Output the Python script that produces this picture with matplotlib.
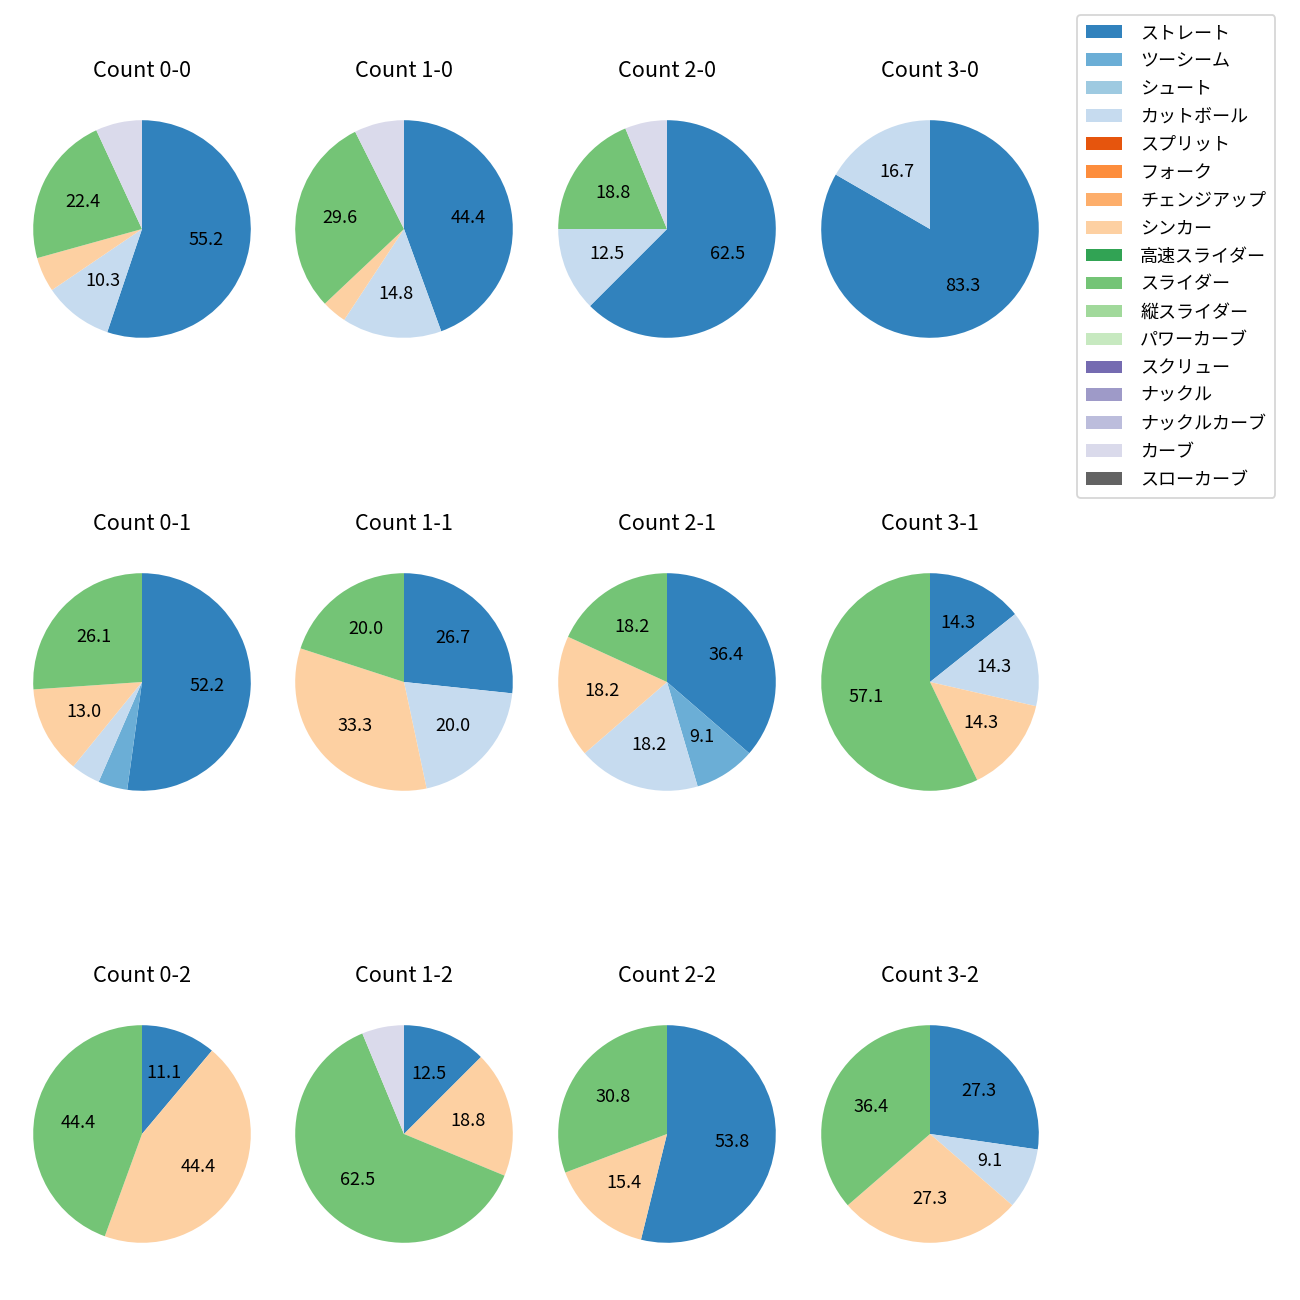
import numpy as np
import matplotlib
matplotlib.use("Agg")
import matplotlib.pyplot as plt
from matplotlib.patches import Patch

plt.rcParams['font.family'] = ['Noto Sans CJK JP', 'DejaVu Sans']

# pitch types and colours (tab20c order)
pitch_types = ['ストレート', 'ツーシーム', 'シュート', 'カットボール', 'スプリット', 'フォーク',
               'チェンジアップ', 'シンカー', '高速スライダー', 'スライダー', '縦スライダー',
               'パワーカーブ', 'スクリュー', 'ナックル', 'ナックルカーブ', 'カーブ', 'スローカーブ']
pitch_colors = ['#3182bd', '#6baed6', '#9ecae1', '#c6dbef', '#e6550d', '#fd8d3c',
                '#fdae6b', '#fdd0a2', '#31a354', '#74c476', '#a1d99b', '#c7e9c0',
                '#756bb1', '#9e9ac8', '#bcbddc', '#dadaeb', '#636363']

# pitch counts per ball-strike count (pitch_type: number)
count_0_0 = {'ストレート': 32, 'カットボール': 6, 'シンカー': 3, 'スライダー': 13, 'カーブ': 4}
count_1_0 = {'ストレート': 12, 'カットボール': 4, 'シンカー': 1, 'スライダー': 8, 'カーブ': 2}
count_2_0 = {'ストレート': 10, 'カットボール': 2, 'スライダー': 3, 'カーブ': 1}
count_3_0 = {'ストレート': 5, 'カットボール': 1}
count_0_1 = {'ストレート': 12, 'ツーシーム': 1, 'カットボール': 1, 'シンカー': 3, 'スライダー': 6}
count_1_1 = {'ストレート': 4, 'カットボール': 3, 'シンカー': 5, 'スライダー': 3}
count_2_1 = {'ストレート': 4, 'ツーシーム': 1, 'カットボール': 2, 'シンカー': 2, 'スライダー': 2}
count_3_1 = {'ストレート': 1, 'カットボール': 1, 'シンカー': 1, 'スライダー': 4}
count_0_2 = {'ストレート': 1, 'シンカー': 4, 'スライダー': 4}
count_1_2 = {'ストレート': 2, 'シンカー': 3, 'スライダー': 10, 'カーブ': 1}
count_2_2 = {'ストレート': 7, 'シンカー': 2, 'スライダー': 4}
count_3_2 = {'ストレート': 3, 'カットボール': 1, 'シンカー': 3, 'スライダー': 4}

grid = [[('0-0', count_0_0), ('1-0', count_1_0), ('2-0', count_2_0), ('3-0', count_3_0)],
        [('0-1', count_0_1), ('1-1', count_1_1), ('2-1', count_2_1), ('3-1', count_3_1)],
        [('0-2', count_0_2), ('1-2', count_1_2), ('2-2', count_2_2), ('3-2', count_3_2)]]

color_of = dict(zip(pitch_types, pitch_colors))

W = H = 1300
fig = plt.figure(figsize=(10, 10), dpi=130)

# layout in pixels of the 1300x1300 output
col_cx = [142, 404, 667, 930]
row_cy = [229, 682, 1134]
box = 272

for r, row in enumerate(grid):
    for c, (name, counts) in enumerate(row):
        ax = fig.add_axes([(col_cx[c] - box / 2) / W, 1 - (row_cy[r] + box / 2) / H, box / W, box / H])
        labels = [p for p in pitch_types if p in counts]
        vals = [counts[p] for p in labels]
        cols = [color_of[p] for p in labels]
        ax.pie(vals, colors=cols, startangle=90, counterclock=False,
               autopct=lambda p: f'{p:.1f}' if p >= 8 else '', textprops={'fontsize': 10})
        ax.set_title('Count ' + name, fontsize=12, pad=9)

handles = [Patch(facecolor=col, label=lab) for lab, col in zip(pitch_types, pitch_colors)]
fig.legend(handles=handles, loc='upper left', bbox_to_anchor=(1077 / W, 1 - 15 / H),
           borderaxespad=0, fontsize=10, labelspacing=0.55, handletextpad=1.0, borderpad=0.5)

fig.savefig('out.png', dpi=130)
